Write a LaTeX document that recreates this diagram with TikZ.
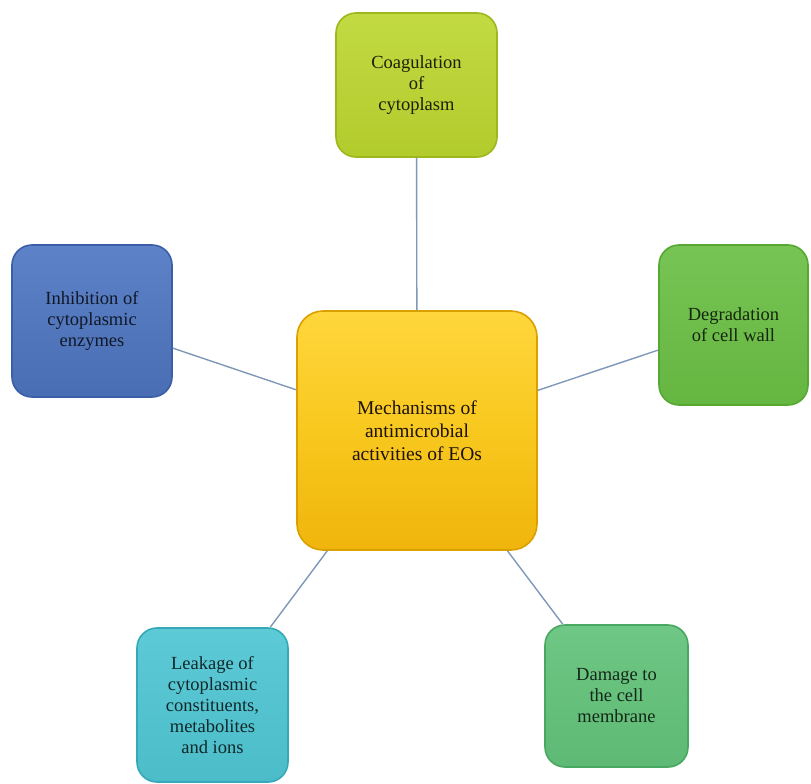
\documentclass[tikz,border=0pt]{standalone}
\usepackage{fontspec}
\setmainfont{Liberation Serif}
\definecolor{cenfill}{HTML}{F8C81E}
\definecolor{cenlight}{HTML}{FFD63C}
\definecolor{cendark}{HTML}{F0B50C}
\definecolor{cenline}{HTML}{D9A000}
\definecolor{topfill}{HTML}{BCD62E}
\definecolor{topline}{HTML}{9CB81C}
\definecolor{leftfill}{HTML}{4F77C2}
\definecolor{leftline}{HTML}{3A5EA8}
\definecolor{rightfill}{HTML}{6BBF45}
\definecolor{rightline}{HTML}{56A833}
\definecolor{blfill}{HTML}{4FC6D3}
\definecolor{blline}{HTML}{35A9B8}
\definecolor{brfill}{HTML}{62C37A}
\definecolor{brline}{HTML}{48A862}
\definecolor{connc}{HTML}{7F98B8}
\tikzset{
  mbox/.style={draw, line width=1.6pt, rounded corners=20pt, align=center,
    inner sep=4pt, font=\fontsize{18.5}{21}\selectfont},
  conn/.style={draw=connc, line width=1.4pt},
}
\begin{document}
\begin{tikzpicture}[x=1pt,y=-1pt]
\useasboundingbox (0,0) rectangle (811,784);
\fill[white] (0,0) rectangle (811,784);
% center
\node[mbox, draw=cenline, top color=cenlight, bottom color=cendark, middle color=cenfill,
  rounded corners=26pt, minimum width=240pt, minimum height=239pt,
  font=\fontsize{19.5}{23}\selectfont, text=black!85!brown] (c) at (417,430.5)
  {Mechanisms of\\antimicrobial\\activities of EOs};
% top
\node[mbox, draw=topline, top color=topfill!90!white, bottom color=topfill!95!black,
  minimum width=161pt, minimum height=144pt, text=black!85!topfill] (t) at (416.5,85)
  {Coagulation\\of\\cytoplasm};
% left
\node[mbox, draw=leftline, top color=leftfill!92!white, bottom color=leftfill!92!black,
  minimum width=160pt, minimum height=152pt, text=black!80!leftfill] (l) at (92,321)
  {Inhibition of\\cytoplasmic\\enzymes};
% right
\node[mbox, draw=rightline, top color=rightfill!92!white, bottom color=rightfill!95!black,
  minimum width=149pt, minimum height=160pt, text=black!80!rightfill] (r) at (733.5,325)
  {Degradation\\of cell wall};
% bottom left
\node[mbox, draw=blline, top color=blfill!92!white, bottom color=blfill!95!black,
  minimum width=151pt, minimum height=154pt, text=black!80!blfill] (bl) at (212.5,705)
  {Leakage of\\cytoplasmic\\constituents,\\metabolites\\and ions};
% bottom right
\node[mbox, draw=brline, top color=brfill!92!white, bottom color=brfill!95!black,
  minimum width=143pt, minimum height=142pt, text=black!80!brfill] (br) at (616.5,696)
  {Damage to\\the cell\\membrane};
% connectors
\draw[conn] (c) -- (t);
\draw[conn] (c) -- (l);
\draw[conn] (c) -- (r);
\draw[conn] (c) -- (bl);
\draw[conn] (c) -- (br);
\end{tikzpicture}
\end{document}
